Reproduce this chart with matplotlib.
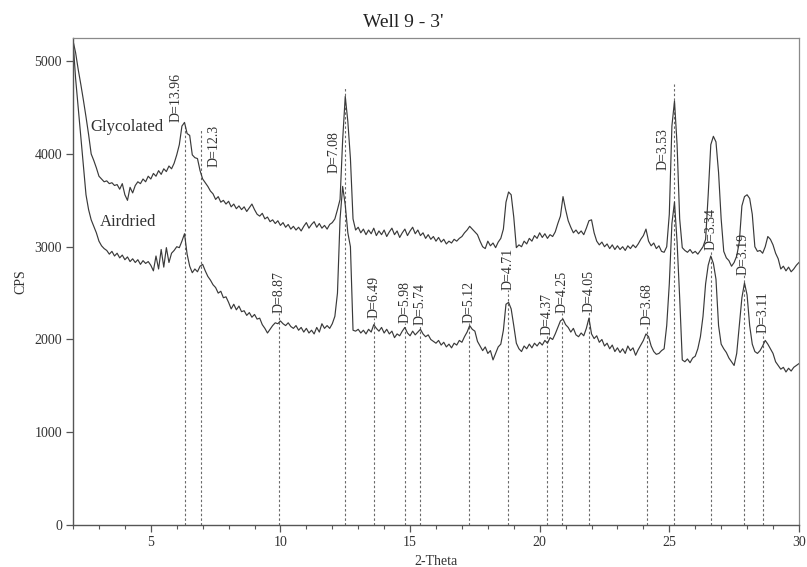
import numpy as np
import matplotlib
matplotlib.use("Agg")
import matplotlib.pyplot as plt
from matplotlib.ticker import MultipleLocator

plt.rcParams["font.family"] = ["Liberation Serif", "DejaVu Serif"]

# 2-theta scan grid (degrees), 0.1 degree steps
two_theta = np.round(np.arange(2.0, 30.0001, 0.1), 1)

glycolated = [
    5220, 5090, 4910, 4750, 4580, 4400, 4210, 4000, 3930, 3850,
    3760, 3730, 3700, 3710, 3680, 3690, 3660, 3670, 3620, 3680,
    3560, 3500, 3640, 3580, 3660, 3700, 3680, 3730, 3700, 3760,
    3730, 3790, 3760, 3820, 3780, 3840, 3810, 3870, 3840, 3900,
    3990, 4100, 4300, 4340, 4220, 4200, 3990, 3960, 3950, 3820,
    3730, 3690, 3650, 3600, 3570, 3510, 3540, 3480, 3500, 3460,
    3490, 3430, 3460, 3410, 3440, 3400, 3430, 3380, 3420, 3460,
    3400, 3350, 3330, 3360, 3300, 3320, 3270, 3290, 3250, 3280,
    3230, 3260, 3210, 3240, 3190, 3220, 3180, 3210, 3170, 3220,
    3260, 3200, 3240, 3270, 3210, 3250, 3200, 3230, 3190, 3240,
    3260, 3300, 3400, 3510, 4150, 4620, 4350, 3950, 3300, 3180,
    3210, 3150, 3190, 3130, 3180, 3140, 3200, 3120, 3170, 3130,
    3180, 3110, 3160, 3200, 3130, 3170, 3100, 3150, 3190, 3120,
    3170, 3210, 3140, 3180, 3120, 3150, 3090, 3130, 3080, 3110,
    3060, 3100, 3050, 3080, 3030, 3060, 3040, 3080, 3060, 3090,
    3110, 3150, 3180, 3220, 3190, 3160, 3130, 3060, 3000, 2980,
    3060, 3010, 3040, 2990, 3050, 3090, 3190, 3480, 3590, 3560,
    3320, 2990, 3020, 3000, 3060, 3030, 3090, 3060, 3120, 3090,
    3150, 3100, 3140, 3090, 3130, 3110, 3160, 3250, 3330, 3540,
    3400, 3280, 3210, 3150, 3180, 3140, 3170, 3130, 3200, 3280,
    3290, 3150, 3060, 3020, 3050, 3000, 3030, 2980, 3020, 2970,
    3010, 2970, 3000, 2960, 3010, 2980, 3020, 2990, 3030, 3080,
    3120, 3190, 3060, 3010, 3040, 2980, 3010, 2950, 2940, 3000,
    3350, 4300, 4570, 4100, 3300, 2990, 2960, 2940, 2970, 2930,
    2950, 2920, 2960, 3000, 3080, 3560, 4100, 4190, 4130, 3800,
    3300, 2950, 2880, 2850, 2790, 2830, 2900, 3050, 3440, 3540,
    3560, 3520, 3350, 3000, 2950, 2960, 2930, 3000, 3110, 3080,
    3020, 2930, 2870, 2760, 2790, 2740, 2780, 2730, 2760, 2800,
    2830,
]

airdried = [
    5220, 4810, 4500, 4190, 3880, 3560, 3400, 3290, 3220, 3150,
    3060, 3010, 2980, 2960, 2920, 2950, 2900, 2930, 2880, 2910,
    2860, 2890, 2840, 2870, 2830, 2860, 2810, 2850, 2820, 2840,
    2800, 2740, 2900, 2760, 2970, 2780, 2990, 2830, 2930, 2960,
    3000, 2990, 3060, 3140, 2920, 2790, 2720, 2760, 2730, 2790,
    2810, 2740, 2680, 2640, 2590, 2560, 2500, 2520, 2450, 2460,
    2400, 2330, 2380, 2320, 2360, 2300, 2310, 2260, 2290, 2240,
    2270, 2220, 2230, 2160, 2120, 2070, 2110, 2150, 2180, 2170,
    2200, 2170, 2150, 2180, 2140, 2120, 2150, 2100, 2130, 2080,
    2120, 2070, 2100, 2060, 2130, 2080, 2170, 2120, 2150, 2120,
    2170, 2250, 2500, 3300, 3650, 3450, 3150, 3000, 2100, 2090,
    2110, 2070, 2100, 2060, 2110, 2080, 2160, 2120, 2090, 2130,
    2070, 2110, 2060, 2090, 2020, 2060, 2040, 2090, 2130, 2070,
    2040, 2090, 2050, 2080, 2110, 2060, 2030, 2050, 2000, 1980,
    1960, 1990, 1940, 1970, 1920, 1950, 1910, 1960, 1940, 1990,
    1970, 2030, 2080, 2150, 2110, 2090, 1980, 1930, 1880, 1920,
    1850, 1880, 1780, 1850, 1920, 1950, 2100, 2380, 2400, 2330,
    2150, 1960, 1900, 1870, 1930, 1900, 1950, 1910, 1960, 1930,
    1970, 1940, 1990, 1960, 2020, 2000, 2060, 2130, 2200, 2220,
    2160, 2130, 2080, 2120, 2050, 2030, 2070, 2040, 2120, 2230,
    2060, 2010, 2040, 1970, 2000, 1930, 1960, 1900, 1940, 1870,
    1910, 1860, 1900, 1850, 1930, 1880, 1910, 1830, 1890, 1940,
    1990, 2060, 2030, 1930, 1870, 1840, 1850, 1880, 1900, 2150,
    2600, 3250, 3480, 3050, 2450, 1780, 1760, 1790, 1750, 1800,
    1820, 1900, 2030, 2250, 2600, 2800, 2900, 2820, 2650, 2150,
    1950, 1900, 1860, 1800, 1760, 1720, 1850, 2150, 2450, 2610,
    2480, 2150, 1950, 1870, 1850, 1880, 1930, 1990, 1950, 1900,
    1850, 1760, 1720, 1680, 1700, 1650, 1690, 1660, 1700, 1720,
    1740,
]

# Identified reflections: 2-theta position and d-spacing label
peak_theta = [6.32, 6.94, 9.94, 12.48, 13.60, 14.79, 15.40, 17.29, 18.78,
              20.28, 20.86, 21.89, 24.14, 25.17, 26.62, 27.90, 28.63]
peak_d = ["13.96", "12.3", "8.87", "7.08", "6.49", "5.98", "5.74", "5.12",
          "4.71", "4.37", "4.25", "4.05", "3.68", "3.53", "3.34", "3.19", "3.11"]

# Height reached by each dotted marker line (CPS)
marker_top = [4300, 4260, 2290, 4720, 2236, 2182, 2160, 2182, 2530,
              2050, 2290, 2300, 2160, 4750, 2970, 2700, 2070]
# Anchor of each rotated label (2-theta, CPS at the label's lower end)
label_theta = [5.97, 7.44, 9.94, 12.07, 13.60, 14.79, 15.40, 17.29, 18.78,
               20.28, 20.86, 21.89, 24.14, 24.75, 26.62, 27.83, 28.63]
label_base = [4341, 3855, 2290, 3800, 2236, 2182, 2160, 2182, 2530,
              2050, 2290, 2300, 2160, 3830, 2970, 2700, 2070]

fig = plt.figure(figsize=(8.07, 5.67), dpi=100)
ax = fig.add_axes([0.0905, 0.074, 0.8995, 0.859])

line_col = "#3a3a3a"
ax.vlines(peak_theta, 0, marker_top, colors="#6a6a6a",
          linestyles=(0, (2.2, 2.0)), linewidth=0.8, zorder=1)
ax.plot(two_theta, glycolated, color=line_col, linewidth=0.85, zorder=2)
ax.plot(two_theta, airdried, color=line_col, linewidth=0.85, zorder=2)

for lx, ly, d in zip(label_theta, label_base, peak_d):
    ax.text(lx, ly, f"D={d}", rotation=90, ha="center", va="bottom",
            fontsize=10, color="#333333", zorder=3)

ax.text(2.66, 4287, "Glycolated", ha="left", va="center",
        fontsize=12, color="#333333")
ax.text(3.05, 3262, "Airdried", ha="left", va="center",
        fontsize=12, color="#333333")

ax.set_xlim(2, 30)
ax.set_ylim(0, 5250)
ax.xaxis.set_major_locator(MultipleLocator(5))
ax.xaxis.set_minor_locator(MultipleLocator(1))
ax.set_yticks([0, 1000, 2000, 3000, 4000, 5000])
ax.tick_params(axis="both", which="major", direction="out", length=5,
               width=0.9, color="#555555", labelsize=10, labelcolor="#333333",
               pad=3)
ax.tick_params(axis="x", which="minor", direction="out", length=3,
               width=0.8, color="#555555")

for side in ("left", "bottom"):
    ax.spines[side].set_color("#555555")
    ax.spines[side].set_linewidth(1.0)
for side in ("top", "right"):
    ax.spines[side].set_color("#8a8a8a")
    ax.spines[side].set_linewidth(0.9)

ax.set_xlabel("2-Theta", fontsize=10, color="#333333", labelpad=4)
ax.set_ylabel("CPS", fontsize=10, color="#333333", labelpad=5)
fig.text(0.5, 0.961, "Well 9 - 3'", ha="center", va="center",
         fontsize=14, color="#222222")

fig.savefig("out.png", dpi=100)
